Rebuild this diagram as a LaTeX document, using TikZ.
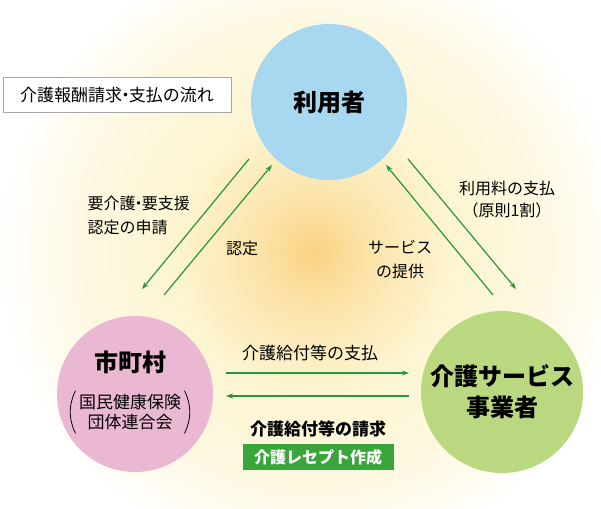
\documentclass[tikz,border=0pt]{standalone}
\usepackage{fontspec}
\setmainfont{Noto Sans CJK JP}
\usepackage{tikz}
\usetikzlibrary{arrows.meta,positioning,calc}

\definecolor{flowgreen}{RGB}{40,150,60}
\definecolor{userblue}{RGB}{168,215,240}
\definecolor{citypink}{RGB}{234,184,210}
\definecolor{provgreen}{RGB}{186,216,128}
\definecolor{boxgreen}{RGB}{58,165,58}
\definecolor{glowcore}{RGB}{250,210,130}
\definecolor{glowmid}{RGB}{253,245,210}

\pgfdeclareradialshading{glow}{\pgfpoint{0bp}{0bp}}{%
  color(0bp)=(glowcore); color(8bp)=(glowmid!50!glowcore);
  color(20bp)=(glowmid); color(33bp)=(glowmid!65!white);
  color(45bp)=(white); color(50bp)=(white)}
\newcommand{\nakaguro}{\hspace{-0.3em}・\hspace{-0.3em}}

\begin{document}
\begin{tikzpicture}[x=1pt,y=-1pt, >={Stealth[length=7pt,width=5pt]},
  every node/.style={font=\fontsize{16}{24}\selectfont},
  party/.style={circle,minimum size=#1,inner sep=0pt,
    font=\bfseries\fontsize{24}{31}\selectfont,align=center},
  flow/.style={->,draw=flowgreen,line width=1.2pt}]
  \useasboundingbox (0,0) rectangle (601,508);
  \fill[white] (0,0) rectangle (601,508);
  \begin{scope}
    \clip (0,0) rectangle (601,508);
    \pgftransformshift{\pgfpoint{313pt}{-253pt}}
    \pgftransformscale{7}
    \pgflowlevelsynccm
    \pgfuseshading{glow}
  \end{scope}

  % the three parties
  \node[party=156,fill=userblue] (user) at (329,102) {利用者};
  \node[party=156,fill=citypink] (city) at (135,394) {};
  \node[party=162,fill=provgreen] (prov) at (502,392) {介護サービス\\事業者};
  \node[font=\bfseries\fontsize{24}{31}\selectfont] (cityname) at (130,362) {市町村};
  \node[align=center,font=\fontsize{17}{20}\selectfont] (union) at (130,412) {国民健康保険\\団体連合会};
  \draw[line width=0.8pt] (union.north west) to[bend right=25] (union.south west);
  \draw[line width=0.8pt] (union.north east) to[bend left=25] (union.south east);

  \node[draw=gray!70,fill=white,minimum width=228,minimum height=35,
    font=\fontsize{17}{20}\selectfont] (title) at (117,95) {介護報酬請求\nakaguro 支払の流れ};

  % arrow ends
  \coordinate (la) at (249,159); \coordinate (lb) at (142,289);
  \coordinate (lc) at (164,295); \coordinate (ld) at (272,165);
  \coordinate (ra) at (408,159); \coordinate (rb) at (516,289);
  \coordinate (rc) at (493,295); \coordinate (rd) at (386,165);
  \coordinate (ha) at (226,373); \coordinate (hb) at (409,373);
  \coordinate (hc) at (409,396); \coordinate (hd) at (226,396);
  \draw[flow] (la) -- (lb);
  \draw[flow] (lc) -- (ld);
  \draw[flow] (ra) -- (rb);
  \draw[flow] (rc) -- (rd);
  \draw[flow] (ha) -- (hb);
  \draw[flow] (hc) -- (hd);

  \node[align=left,anchor=west] (apply) at (84,215) {要介護\nakaguro 要支援\\認定の申請};
  \node (certify) at (242,248) {認定};
  \node[align=center,font=\fontsize{16}{22}\selectfont] (fee) at (507,200) {利用料の支払\\（原則1割）};
  \node[align=center] (service) at (400,260) {サービス\\の提供};
  \node[font=\fontsize{17}{20}\selectfont] (pay) at (310,353) {介護給付等の支払};
  \node[font=\bfseries\fontsize{17}{20}\selectfont] (claim) at (318,429) {介護給付等の請求};
  \node[fill=boxgreen,text=white,minimum width=151,minimum height=26,inner sep=0pt,
    font=\bfseries\fontsize{16}{20}\selectfont] (receipt) at (318,457) {介護レセプト作成};
\end{tikzpicture}
\end{document}
